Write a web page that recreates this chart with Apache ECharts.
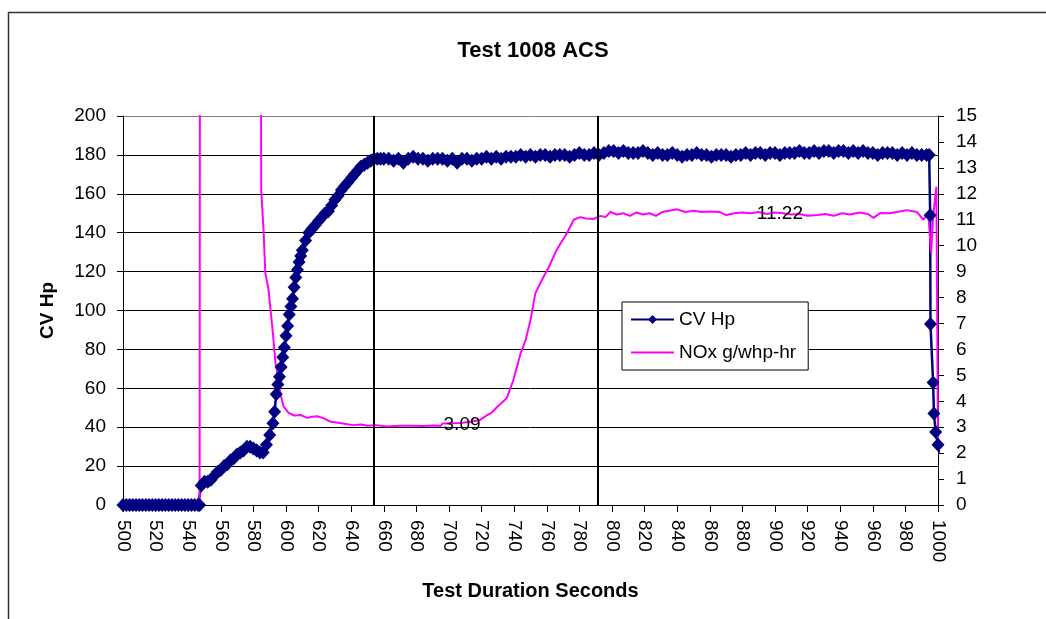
<!DOCTYPE html>
<html>
<head>
<meta charset="utf-8">
<title>Test 1008 ACS</title>
<script src="https://cdn.jsdelivr.net/npm/echarts@6/dist/echarts.min.js"></script>
<style>
  html, body { margin: 0; padding: 0; background: #fff; }
  #myChart { width: 1046px; height: 619px; }
</style>
</head>
<body>
<div id="myChart"></div>
<script>
// seconds and CV Hp (left axis)
var cvSec = [
  500, 502, 504, 506, 508, 510, 512, 514, 516, 518, 520, 522, 524, 526, 528, 530, 532, 534, 536, 538, 540, 542, 544, 546, 547,
  548, 550, 552, 554, 556, 558, 560, 562, 564, 566, 568, 570, 572, 574, 576, 578, 580, 582, 584, 586, 588, 590, 592, 593,
  594, 595, 596, 597, 598, 599, 600, 601, 602, 603, 604, 605, 606, 607, 608, 609, 610, 612, 614, 616, 618, 620,
  622, 624, 626, 628, 630, 632, 634, 636, 638, 640, 642, 644, 646, 648, 650, 652, 654, 656, 658,
  660, 663, 666, 669, 672, 675, 678, 681, 684, 687, 690, 693, 696, 699, 702, 705, 708, 711, 714, 717,
  720, 723, 726, 729, 732, 735, 738, 741, 744, 747, 750, 753, 756, 759, 762, 765, 768, 771, 774, 777,
  780, 783, 786, 789, 792, 795, 798, 801, 804, 807, 810, 813, 816, 819, 822, 825, 828, 831, 834, 837,
  840, 843, 846, 849, 852, 855, 858, 861, 864, 867, 870, 873, 876, 879, 882, 885, 888, 891, 894, 897,
  900, 903, 906, 909, 912, 915, 918, 921, 924, 927, 930, 933, 936, 939, 942, 945, 948, 951, 954, 957,
  960, 963, 966, 969, 972, 975, 978, 981, 984, 987, 990, 993, 994.6,
  995.2, 995.4, 997, 997.5, 998.6, 1000, 1004.7
];
var cvHp = [
  0, 0, 0, 0, 0, 0, 0, 0, 0, 0, 0, 0, 0, 0, 0, 0, 0, 0, 0, 0, 0, 0, 0, 0, 0,
  10, 12, 12, 13, 15, 17, 18, 20, 21, 23, 24, 26, 27, 28, 30, 30, 29, 28, 27, 27, 31, 36, 42, 48,
  57, 62, 66, 71, 76, 81, 87, 92, 98, 102, 106, 112, 117, 121, 125, 128, 131, 136, 140, 142, 144, 146,
  148, 150, 151, 154, 157, 159, 162, 164, 166, 168, 170, 172, 174, 175, 176, 177, 178, 178, 178,
  178, 178, 177, 178, 176, 178, 179, 178, 178, 177, 178, 178, 178, 177, 178, 176, 178, 178, 177, 178,
  178, 179, 178, 179, 178, 179, 179, 179, 180, 179, 180, 179, 180, 180, 179, 180, 180, 180, 179, 180,
  181, 180, 180, 181, 180, 181, 182, 182, 181, 182, 181, 181, 181, 182, 181, 180, 181, 180, 180, 181,
  180, 179, 180, 180, 181, 180, 180, 179, 180, 180, 180, 179, 180, 180, 181, 180, 181, 181, 180, 181,
  181, 180, 181, 181, 181, 182, 181, 181, 182, 181, 182, 182, 181, 182, 182, 181, 182, 181, 182, 181,
  181, 180, 181, 181, 181, 180, 181, 180, 181, 180, 180, 180, 180,
  149, 93, 63, 47, 37.5, 31, 19
];

// seconds and NOx g/whp-hr (right axis)
var noxSec = [
  500, 547, 547.4, 584, 584.8, 586.3, 587.3, 589.3, 592, 593.5, 595.5, 596.5, 598.5, 601.6, 605, 609,
  613, 616, 619, 623, 627, 633, 637, 641, 646, 650, 655, 662, 670, 676, 684, 690, 695, 696, 707, 712,
  719, 723.5, 726, 729.5, 735.5, 739.5, 744, 747, 750, 753, 758, 761, 766, 772.5, 776.5, 780.5, 784, 788.5,
  793, 796, 799, 803, 807, 811, 815, 819, 823, 827, 831, 835, 840, 845, 850, 855, 860, 866, 870, 875,
  880, 885, 890, 895, 900, 905, 910, 915, 920, 926, 931, 936, 941, 946, 952, 957, 960.5, 964.5, 970, 975,
  981, 987, 991, 994, 995.8, 997, 999, 999.8, 1000
];
var noxVal = [
  0, 0, 40, 40, 12.15, 10.5, 8.95, 8.3, 6.6, 5.5, 4.8, 4.3, 3.8, 3.55, 3.45, 3.47,
  3.36, 3.4, 3.42, 3.35, 3.22, 3.16, 3.12, 3.08, 3.1, 3.06, 3.08, 3.03, 3.06, 3.06, 3.05, 3.07, 3.06, 3.14, 3.16, 3.2,
  3.28, 3.47, 3.55, 3.78, 4.13, 4.82, 5.86, 6.36, 7.13, 8.17, 8.8, 9.14, 9.83, 10.5, 11.0, 11.1, 11.05, 11.03,
  11.15, 11.1, 11.3, 11.2, 11.25, 11.15, 11.28, 11.2, 11.25, 11.15, 11.3, 11.35, 11.4, 11.3, 11.35, 11.3, 11.32, 11.3, 11.18, 11.25,
  11.28, 11.25, 11.3, 11.22, 11.28, 11.25, 11.2, 11.22, 11.15, 11.18, 11.22, 11.15, 11.25, 11.2, 11.28, 11.22, 11.07, 11.26, 11.25, 11.3,
  11.37, 11.3, 11.0, 11.26, 9.72, 11.12, 12.28, 12.34, 2.5
];

// vertical reference lines and the two data labels
var markSec = [654, 791];
var noteSec = [708, 903];
var noteVal = [3.09, 11.22];

var xMin = 500, xMax = 1000, xStep = 20;
var hpMax = 200, hpStep = 20;
var noxMax = 15, noxStep = 1;

var font = "'Liberation Sans', Arial, sans-serif";

var cvData = cvSec.map(function (s, i) {
  // the tail past the axis end is drawn without a marker
  if (s > xMax) return { value: [s, cvHp[i]], symbol: "none" };
  return [s, cvHp[i]];
});
var noxData = noxSec.map(function (s, i) { return [s, noxVal[i]]; });

var gridColors = [];
for (var g = 0; g < hpMax / hpStep; g++) gridColors.push("#000");
gridColors.push("#808080");

var myChart = echarts.init(document.getElementById("myChart"));
myChart.setOption({
  animation: false,
  backgroundColor: "#fff",
  textStyle: { fontFamily: font },
  title: {
    text: "Test 1008 ACS",
    left: 528,
    top: 35,
    textAlign: "center",
    textStyle: { fontFamily: font, fontSize: 22, fontWeight: "bold", color: "#000" }
  },
  graphic: [{
    type: "rect",
    shape: { x: 8.5, y: 12.5, width: 1100, height: 700 },
    style: { fill: "none", stroke: "#333", lineWidth: 1.5 },
    silent: true
  }],
  legend: {
    orient: "vertical",
    left: 622,
    top: 302,
    padding: [8, 12, 8, 8],
    itemWidth: 43,
    itemHeight: 11,
    itemGap: 14,
    backgroundColor: "#fff",
    borderColor: "#000",
    borderWidth: 1,
    borderRadius: 0,
    textStyle: { fontFamily: font, fontSize: 19, color: "#000" },
    data: [
      { name: "CV Hp" },
      { name: "NOx g/whp-hr", itemStyle: { opacity: 0 } }
    ]
  },
  grid: { left: 123, right: 108, top: 116, bottom: 114 },
  xAxis: {
    type: "value",
    min: xMin,
    max: xMax,
    interval: xStep,
    name: "Test Duration Seconds",
    nameLocation: "middle",
    nameGap: 76,
    nameTextStyle: { fontFamily: font, fontSize: 20, fontWeight: "bold", color: "#000" },
    axisLine: { lineStyle: { color: "#000", width: 1 } },
    axisTick: { length: 7, lineStyle: { color: "#000" } },
    axisLabel: {
      rotate: -90, margin: 15, fontSize: 19, color: "#000", fontFamily: font,
      formatter: function (v) { return String(v); }
    },
    splitLine: { show: false }
  },
  yAxis: [
    {
      type: "value",
      min: 0,
      max: hpMax,
      interval: hpStep,
      name: "CV Hp",
      nameLocation: "middle",
      nameGap: 66,
      nameRotate: 90,
      nameTextStyle: { fontFamily: font, fontSize: 19, fontWeight: "bold", color: "#000" },
      axisLine: { show: true, lineStyle: { color: "#000", width: 1 } },
      axisTick: { show: true, length: 6, lineStyle: { color: "#000" } },
      axisLabel: { margin: 17, fontSize: 19, color: "#000", fontFamily: font },
      splitLine: { show: true, lineStyle: { color: gridColors, width: 1 } }
    },
    {
      type: "value",
      position: "right",
      min: 0,
      max: noxMax,
      interval: noxStep,
      axisLine: { show: true, lineStyle: { color: "#000", width: 1 } },
      axisTick: { show: true, length: 6, lineStyle: { color: "#000" } },
      axisLabel: { margin: 18, fontSize: 19, color: "#000", fontFamily: font },
      splitLine: { show: false }
    }
  ],
  series: [
    {
      name: "CV Hp",
      type: "line",
      yAxisIndex: 0,
      data: cvData,
      symbol: "diamond",
      symbolSize: [13, 14],
      showAllSymbol: true,
      clip: false,
      itemStyle: { color: "#000080" },
      lineStyle: { color: "#000080", width: 2.5 }
    },
    {
      name: "NOx g/whp-hr",
      type: "line",
      yAxisIndex: 1,
      data: noxData,
      symbol: "none",
      itemStyle: { color: "#FF00FF" },
      lineStyle: { color: "#FF00FF", width: 2 },
      markLine: {
        silent: true,
        symbol: "none",
        label: { show: false },
        lineStyle: { color: "#000", width: 2, type: "solid" },
        data: markSec.map(function (s) { return { xAxis: s }; })
      },
      markPoint: {
        silent: true,
        symbol: "rect",
        symbolSize: 1,
        itemStyle: { color: "rgba(0,0,0,0)" },
        label: {
          show: true,
          position: "inside",
          formatter: "{c}",
          color: "#000",
          fontSize: 19,
          fontFamily: font
        },
        data: noteSec.map(function (s, i) {
          return { coord: [s, noteVal[i]], value: noteVal[i].toFixed(2) };
        })
      }
    }
  ]
});
</script>
</body>
</html>
